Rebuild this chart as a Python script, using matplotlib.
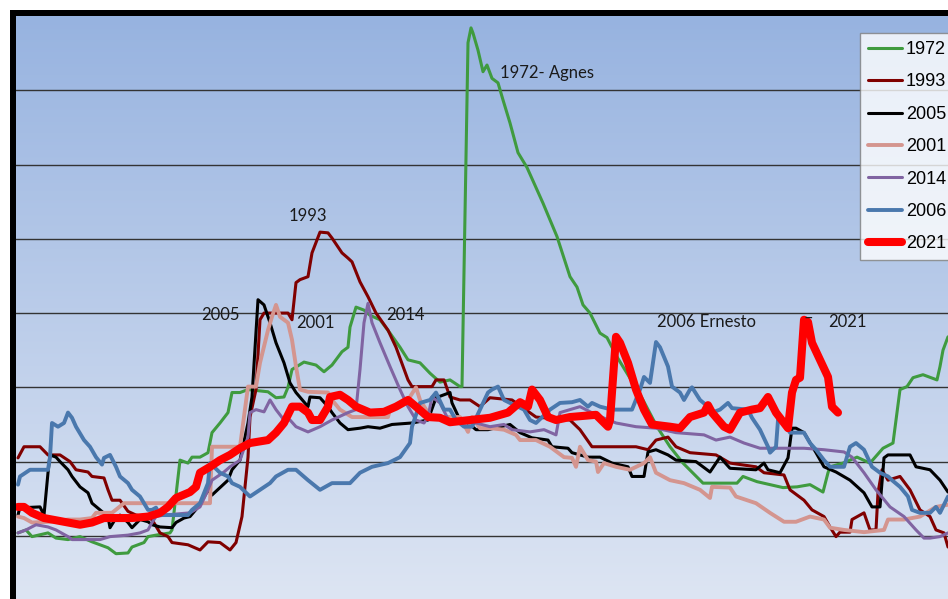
import numpy as np
import matplotlib
matplotlib.use("Agg")
import matplotlib.pyplot as plt
from matplotlib.colors import LinearSegmentedColormap
from matplotlib.patches import Rectangle

# river level by day of the event window
days_1972 = [0.5, 2.5, 4, 8, 10, 13, 16, 19, 23, 25, 28, 29, 32, 33, 35, 38.5, 39, 41, 43, 44, 46, 48, 49, 51, 53, 54, 56, 58,
             63, 65, 67, 68, 69, 72, 75, 77, 79, 81.5, 83, 83.5, 85, 87, 88.5, 91, 93.5, 96, 98, 101, 103.5, 106, 108.5, 111,
             111.5, 113, 113.75, 114.25, 115.5, 116.75, 117.75, 119, 120.5, 121.75, 123.5, 125.5, 127.75, 130.25, 131.75,
             135.25, 138.5, 140.25, 141.75, 143.5, 146, 147.75, 150.25, 152.75, 155.25, 156.75, 160.25, 163.5, 166.75,
             171.75, 176.75, 180.25, 181.75, 185.25, 188.5, 191.75, 195.25, 198.5, 201.75, 203, 203.5, 206.75, 210.25,
             213.5, 216.75, 219.25, 221, 222.75, 224.25, 226.75, 230.25, 231, 231.75, 233]
vals_1972 = [1.04, 1.08, 0.99, 1.04, 0.97, 0.95, 0.99, 0.92, 0.84, 0.76, 0.77, 0.85, 0.91, 0.99, 1.01, 1.04, 1.08, 2.02, 1.98,
             2.06, 2.06, 2.12, 2.39, 2.52, 2.66, 2.93, 2.93, 2.97, 2.94, 2.86, 2.87, 3.00, 3.24, 3.34, 3.30, 3.21, 3.30, 3.48,
             3.54, 3.81, 4.08, 4.04, 3.97, 3.91, 3.73, 3.54, 3.37, 3.33, 3.19, 3.07, 3.10, 3.01, 3.01, 7.64, 7.84, 7.77, 7.54,
             7.25, 7.34, 7.16, 7.10, 6.87, 6.56, 6.16, 5.96, 5.66, 5.48, 5.03, 4.49, 4.35, 4.11, 4.00, 3.73, 3.67, 3.41, 3.19,
             2.97, 2.83, 2.47, 2.20, 1.98, 1.71, 1.71, 1.71, 1.80, 1.73, 1.69, 1.65, 1.66, 1.69, 1.59, 1.85, 1.93, 1.98, 2.06,
             1.98, 2.18, 2.25, 2.97, 3.01, 3.13, 3.17, 3.10, 3.28, 3.50, 3.68]

days_1993 = [0.5, 2, 6, 8, 11, 13.5, 15, 18, 19, 22, 23, 24, 26, 28, 30, 32, 34, 36, 38, 39, 43, 46, 48, 51, 53.5, 55, 56.5,
             58, 58.5, 60, 61, 62, 68, 69, 70, 71, 73, 74, 76, 78, 79, 81.5, 83, 84, 86, 88, 90, 93, 95, 98, 99, 104, 105, 107,
             108.5, 111, 113.5, 116, 118.5, 124, 130, 138.5, 141, 144, 155, 158, 160, 163, 165, 168.5, 175, 178.5, 185, 187,
             192, 193.5, 197, 199, 202, 203.5, 205, 206, 208.5, 209, 212, 213.5, 215, 215.5, 216.5, 218, 221, 223.5, 226,
             228.5, 230, 232, 233]
vals_1993 = [2.05, 2.20, 2.20, 2.09, 2.09, 2.00, 1.89, 1.86, 1.80, 1.78, 1.62, 1.48, 1.48, 1.33, 1.28, 1.26, 1.22, 1.04, 0.99,
             0.91, 0.88, 0.81, 0.92, 0.91, 0.81, 0.91, 1.26, 2.06, 2.60, 2.97, 3.91, 4.00, 4.00, 3.91, 4.41, 4.45, 4.49, 4.81,
             5.09, 5.08, 5.01, 4.81, 4.74, 4.69, 4.42, 4.22, 4.00, 3.77, 3.54, 3.10, 3.01, 3.01, 3.10, 3.10, 2.87, 2.83, 2.83,
             2.74, 2.86, 2.83, 2.60, 2.56, 2.43, 2.20, 2.20, 2.16, 2.29, 2.33, 2.20, 2.12, 2.09, 1.98, 1.93, 1.85, 1.82, 1.62,
             1.48, 1.35, 1.26, 1.12, 0.99, 1.05, 1.05, 1.22, 1.31, 1.08, 1.08, 1.58, 1.89, 1.75, 1.80, 1.62, 1.35, 1.26, 1.08,
             1.04, 0.85]

days_2005 = [0.5, 1, 2, 6, 7, 8, 8.5, 10, 11, 13, 14, 16, 18, 19, 21, 23, 23.5, 25, 26, 28, 29, 31, 33, 34, 36, 39, 40, 42,
             43.5, 46, 48, 49, 51, 53, 54, 56, 58, 59, 60.5, 62, 63.5, 65, 67, 68.5, 70, 73, 73.5, 76, 78, 79, 81, 83, 86, 88,
             91, 94, 99, 103, 105, 107, 108.5, 109, 111, 113, 115, 118, 123.5, 126, 129, 133, 134, 138, 139, 143, 146, 149,
             153, 154, 157, 158, 160, 163, 165, 170, 173.5, 176, 178.5, 185, 187, 188, 191, 193, 194, 195, 197, 200, 202, 205,
             208.5, 212, 214, 216, 217, 218, 223.5, 225, 228.5, 231, 233]
vals_2005 = [1.28, 1.39, 1.38, 1.39, 1.28, 1.85, 2.09, 2.06, 2.00, 1.89, 1.80, 1.66, 1.58, 1.44, 1.35, 1.26, 1.11, 1.24, 1.28,
             1.18, 1.11, 1.22, 1.19, 1.15, 1.12, 1.11, 1.18, 1.24, 1.26, 1.42, 1.62, 1.55, 1.65, 1.75, 1.89, 2.02, 2.52, 2.87,
             4.18, 4.11, 3.87, 3.60, 3.33, 3.06, 2.93, 2.74, 2.87, 2.86, 2.74, 2.66, 2.52, 2.43, 2.45, 2.47, 2.45, 2.50, 2.52,
             2.56, 2.86, 2.90, 2.93, 2.79, 2.56, 2.52, 2.43, 2.43, 2.50, 2.39, 2.32, 2.29, 2.20, 2.18, 2.12, 2.06, 2.06, 1.98,
             1.93, 1.80, 1.80, 2.13, 2.16, 2.09, 2.02, 2.00, 1.86, 2.06, 1.91, 1.89, 1.98, 1.89, 1.85, 2.05, 2.45, 2.45, 2.39,
             2.12, 1.93, 1.86, 1.75, 1.58, 1.39, 1.39, 2.05, 2.09, 2.09, 1.93, 1.89, 1.75, 1.59]

days_2001 = [0.5, 2, 4, 8.5, 13, 16, 19, 20, 24, 27, 48.5, 49, 56, 58, 60, 61, 63, 64, 65, 66, 68, 69, 70, 71, 73, 78, 79, 81,
             84, 93, 93.5, 98, 100, 101, 103, 104, 111, 113, 114, 116, 118.5, 122, 125, 126, 130, 133.5, 137, 139, 140, 141,
             143, 145, 145.5, 147, 150, 153.5, 157, 158.5, 160, 163.5, 167, 171, 173.5, 174, 178.5, 180, 185, 188.5, 192, 195,
             198.5, 202, 203.5, 207, 212, 217, 218, 222, 226, 230, 233]
vals_2001 = [1.26, 1.24, 1.18, 1.19, 1.22, 1.22, 1.24, 1.31, 1.31, 1.44, 1.44, 2.20, 2.20, 3.01, 3.01, 3.33, 3.77, 3.95, 4.11,
             3.95, 3.87, 3.64, 3.28, 2.97, 2.94, 2.93, 2.83, 2.70, 2.60, 2.60, 2.70, 2.83, 3.00, 2.83, 2.66, 2.60, 2.60, 2.40,
             2.60, 2.45, 2.45, 2.43, 2.36, 2.29, 2.29, 2.20, 2.06, 2.05, 1.93, 2.20, 2.02, 2.00, 1.86, 1.98, 1.93, 1.89, 1.98,
             2.06, 1.85, 1.75, 1.71, 1.62, 1.51, 1.66, 1.65, 1.53, 1.44, 1.31, 1.19, 1.19, 1.26, 1.22, 1.11, 1.08, 1.05, 1.08,
             1.22, 1.22, 1.26, 1.39, 1.42]

days_2014 = [0.5, 2.5, 5, 8, 10, 13, 14, 21, 23.5, 28, 31, 33, 34, 35, 37, 43.5, 46, 48, 49, 52, 53.5, 56, 58, 58.5, 60, 62,
             63.5, 65, 67, 68.5, 70, 73, 76, 79, 83, 85, 86, 87, 88, 89, 91, 93.5, 96, 98, 100, 102, 103, 104, 106, 108.5, 115,
             118.5, 122, 124, 128.5, 132, 135, 136, 138.5, 141, 145, 150, 155, 160, 165, 172, 175, 178.5, 182, 186, 197, 202,
             207, 209, 212, 215, 218.5, 222, 225, 227, 228.5, 231, 233]
vals_2014 = [1.04, 1.08, 1.15, 1.12, 1.08, 0.99, 0.95, 0.95, 0.99, 1.01, 1.04, 1.08, 1.18, 1.26, 1.28, 1.31, 1.39, 1.62, 1.75,
             1.86, 1.93, 2.02, 2.33, 2.66, 2.70, 2.67, 2.83, 2.70, 2.56, 2.56, 2.47, 2.40, 2.47, 2.56, 2.66, 2.70, 3.24, 3.87,
             4.13, 3.87, 3.60, 3.28, 2.97, 2.74, 2.56, 2.52, 2.60, 2.87, 2.79, 2.52, 2.52, 2.47, 2.50, 2.43, 2.40, 2.43, 2.36,
             2.66, 2.70, 2.74, 2.63, 2.52, 2.47, 2.45, 2.39, 2.36, 2.29, 2.33, 2.25, 2.18, 2.18, 2.16, 2.13, 2.06, 1.85, 1.62,
             1.39, 1.26, 1.08, 0.97, 0.97, 0.99, 1.04]

days_2006 = [0.5, 1, 3.5, 8, 8.5, 9, 10.5, 12, 13, 14, 15, 17, 18.5, 20, 21.5, 22, 23.5, 25, 26, 28, 29, 31, 33, 34, 35, 36,
             43, 44, 46, 48, 48.5, 51, 53, 54, 56, 58.5, 61, 63.5, 65, 68, 70, 73, 76, 79, 83.5, 86, 89, 93, 96, 98.5, 99, 101,
             103.5, 105, 107, 108.5, 110, 112, 114, 116, 118, 119, 120.5, 122, 123.5, 127, 128.5, 130, 133.5, 136, 139, 141,
             143, 144, 146, 149, 152, 154, 156, 157, 158.5, 160, 161, 163, 164, 166, 167, 168.5, 169, 171, 173, 174, 176, 178,
             179, 183, 184, 186, 188, 188.5, 190, 190.5, 192, 193.5, 197, 198.5, 200, 202, 203.5, 207, 208.5, 210, 212, 214,
             216, 218, 219, 221, 223, 224, 226, 228.5, 230, 231, 233]
vals_2006 = [1.69, 1.80, 1.89, 1.89, 2.06, 2.52, 2.47, 2.52, 2.66, 2.59, 2.47, 2.29, 2.20, 2.06, 1.96, 2.05, 2.09, 1.93, 1.80,
             1.71, 1.62, 1.53, 1.35, 1.35, 1.38, 1.28, 1.28, 1.35, 1.44, 1.71, 1.98, 1.85, 1.80, 1.71, 1.66, 1.53, 1.62, 1.71,
             1.80, 1.89, 1.89, 1.75, 1.62, 1.71, 1.71, 1.85, 1.93, 1.98, 2.06, 2.25, 2.47, 2.79, 2.83, 2.93, 2.70, 2.70, 2.56,
             2.47, 2.47, 2.70, 2.93, 2.97, 3.01, 2.83, 2.79, 2.70, 2.56, 2.52, 2.70, 2.79, 2.80, 2.83, 2.74, 2.79, 2.74, 2.70,
             2.70, 2.70, 2.97, 3.14, 3.06, 3.61, 3.54, 3.28, 3.01, 2.93, 2.83, 2.97, 3.00, 2.83, 2.74, 2.66, 2.70, 2.79, 2.72,
             2.70, 2.59, 2.43, 2.20, 2.12, 2.20, 2.56, 2.52, 2.39, 2.39, 2.25, 2.16, 2.02, 1.93, 1.93, 2.20, 2.25, 2.16, 1.93,
             1.85, 1.80, 1.75, 1.66, 1.53, 1.35, 1.31, 1.31, 1.39, 1.31, 1.53]

days_2021 = [0.5, 2, 4, 7, 9, 13, 16, 19, 22, 25, 29, 33, 36, 38, 40, 43.5, 45, 46, 48.5, 51, 53.5, 56, 58.5, 63, 65, 67, 69,
             71, 73, 74, 76, 78, 78.5, 81, 83, 85, 88.5, 92, 95, 98, 100, 103, 106, 108.5, 113.5, 118.5, 123, 126, 128, 129,
             131, 133, 135, 138.5, 145, 148, 148.5, 150, 151, 153, 155, 157, 159, 163.5, 166, 168.5, 172, 173, 174, 177, 178.5,
             181, 184, 186, 188, 190, 193, 194, 195, 196, 197, 198, 199, 203, 204, 205.5]
vals_2021 = [1.39, 1.39, 1.31, 1.24, 1.22, 1.18, 1.15, 1.18, 1.24, 1.24, 1.24, 1.26, 1.31, 1.39, 1.51, 1.59, 1.66, 1.85, 1.93,
             2.02, 2.09, 2.18, 2.25, 2.29, 2.39, 2.52, 2.74, 2.74, 2.66, 2.56, 2.56, 2.74, 2.87, 2.90, 2.83, 2.74, 2.66, 2.67,
             2.74, 2.83, 2.74, 2.60, 2.59, 2.53, 2.56, 2.59, 2.66, 2.80, 2.74, 2.97, 2.83, 2.60, 2.56, 2.60, 2.63, 2.47, 2.56,
             3.68, 3.60, 3.33, 2.97, 2.70, 2.50, 2.47, 2.45, 2.60, 2.66, 2.76, 2.66, 2.47, 2.43, 2.66, 2.70, 2.72, 2.87, 2.66,
             2.45, 2.93, 3.10, 3.13, 3.91, 3.88, 3.60, 3.14, 2.74, 2.66]

series = [
    ("1972", days_1972, vals_1972, "#3f9b3f", 2.2),
    ("1993", days_1993, vals_1993, "#800000", 2.2),
    ("2005", days_2005, vals_2005, "#000000", 2.2),
    ("2001", days_2001, vals_2001, "#d4958f", 2.8),
    ("2014", days_2014, vals_2014, "#8064a2", 2.2),
    ("2006", days_2006, vals_2006, "#4a78ad", 2.8),
    ("2021", days_2021, vals_2021, "#ff0000", 5.8),
]

W, H = 948, 599
fig = plt.figure(figsize=(W / 100, H / 100), dpi=100)
fig.patch.set_facecolor("white")

# black frame on top and left (the chart is cropped on the other sides)
fig.add_artist(Rectangle((10 / W, 0), 1, (H - 10) / H, transform=fig.transFigure,
                         facecolor="black", edgecolor="none", zorder=0))

ax = fig.add_axes([16 / W, 0, (W - 16) / W, (H - 16) / H])
ax.set_zorder(1)

xmin, xmax = 0, 233
ymin, ymax = 0.15, 8.0

# gradient fill like the Excel plot area
cmap = LinearSegmentedColormap.from_list("bg", ["#dde5f3", "#97b3e0"])
grad = np.linspace(0, 1, 256).reshape(-1, 1)
ax.imshow(grad, extent=[xmin, xmax, ymin, ymax], origin="lower", aspect="auto",
          cmap=cmap, zorder=0, interpolation="bicubic")

for name, d, v, c, lw in series:
    ax.plot(d, v, color=c, lw=lw, label=name, solid_joinstyle="round", solid_capstyle="round", zorder=3)

ax.set_xlim(xmin, xmax)
ax.set_ylim(ymin, ymax)
ax.set_yticks(range(1, 8))
ax.set_xticks([])
ax.yaxis.grid(True, color="#333333", lw=1.0)
ax.set_axisbelow(True)
ax.tick_params(length=0, labelleft=False)
for s in ax.spines.values():
    s.set_visible(False)

fnt = dict(family="Lato", fontsize=12, color="#1a1a1a", va="center", zorder=10)
ax.text(73, 5.31, "1993", ha="center", **fnt)
ax.text(51, 3.97, "2005", ha="center", **fnt)
ax.text(74.75, 3.87, "2001", ha="center", **fnt)
ax.text(97.25, 3.97, "2014", ha="center", **fnt)
ax.text(121, 7.23, "1972- Agnes", ha="left", **fnt)
ax.text(160.25, 3.88, "2006 Ernesto", ha="left", **fnt)
ax.text(198.2, 3.93, "–", ha="center", **fnt)
ax.text(203, 3.88, "2021", ha="left", **fnt)

leg = fig.legend(loc="upper left", bbox_to_anchor=(860 / W, 1 - 33 / H), frameon=True, fancybox=False,
                 prop={"family": "Liberation Sans", "size": 13}, handlelength=1.9, handletextpad=0.2,
                 labelspacing=0.85, borderpad=0.45, borderaxespad=0)
leg.get_frame().set_edgecolor("#7f7f7f")
leg.get_frame().set_linewidth(1.0)
leg.set_zorder(5)

fig.savefig("out.png", dpi=100)
